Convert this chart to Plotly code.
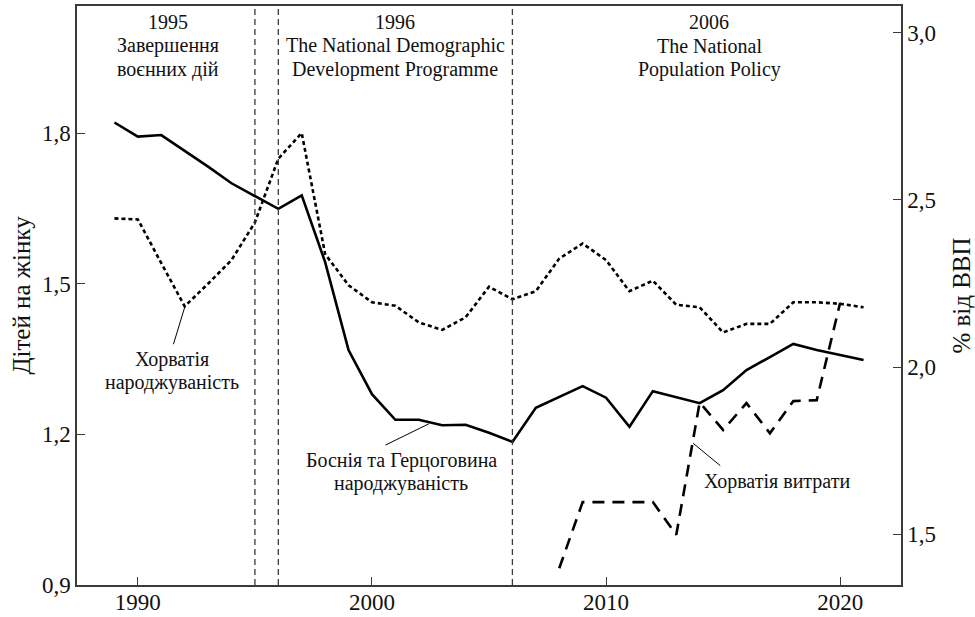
import plotly.graph_objects as go

years = list(range(1989, 2022))
bih_fertility = [1.821, 1.793, 1.796, 1.765, 1.733, 1.700, 1.675, 1.649, 1.676, 1.543,
                 1.368, 1.280, 1.229, 1.229, 1.218, 1.219, 1.203, 1.185, 1.253, 1.275,
                 1.296, 1.273, 1.215, 1.286, 1.274, 1.262, 1.288, 1.328, 1.354, 1.380,
                 1.368, 1.358, 1.348]
cro_fertility = [1.630, 1.628, 1.541, 1.455, 1.500, 1.547, 1.622, 1.749, 1.800, 1.559,
                 1.497, 1.463, 1.456, 1.423, 1.408, 1.433, 1.494, 1.469, 1.485, 1.550,
                 1.580, 1.547, 1.485, 1.506, 1.458, 1.453, 1.403, 1.420, 1.420, 1.463,
                 1.463, 1.460, 1.453]
exp_years = list(range(2008, 2021))
cro_spending = [1.398, 1.596, 1.596, 1.596, 1.596, 1.498, 1.894, 1.812, 1.892, 1.802,
                1.898, 1.901, 2.192]

event_years = [1995, 1996, 2006]
event_labels = [["1995", "Завершення", "воєнних дій"],
                ["1996", "The National Demographic", "Development Programme"],
                ["2006", "The National", "Population Policy"]]
event_label_x = [1991.3, 2001.0, 2014.4]

FONT = "Liberation Serif"
AX = "#3a3a3a"
LINE_PX = 23.5          # line spacing of the callout texts, px
PX_PER_UNIT = 501.3     # left axis pixels per unit (for line spacing)

fig = go.Figure()
fig.add_trace(go.Scatter(x=years, y=cro_fertility, mode="lines",
                         line=dict(color="black", width=2.6, dash="4px,3px"),
                         showlegend=False))
fig.add_trace(go.Scatter(x=years, y=bih_fertility, mode="lines",
                         line=dict(color="black", width=2.6),
                         showlegend=False))
fig.add_trace(go.Scatter(x=exp_years, y=cro_spending, mode="lines", yaxis="y2",
                         line=dict(color="black", width=2.6, dash="12px,8px"),
                         showlegend=False))

shapes = []
for ev in event_years:
    shapes.append(dict(type="line", xref="x", yref="paper", x0=ev, x1=ev, y0=0, y1=1,
                       line=dict(color=AX, width=1.3, dash="6px,4px")))
# leader lines
shapes.append(dict(type="line", xref="x", yref="y", x0=1992.02, y0=1.456, x1=1991.52, y1=1.3795,
                   line=dict(color="black", width=1)))
shapes.append(dict(type="line", xref="x", yref="y", x0=2002.43, y0=1.221, x1=2000.58, y1=1.1787,
                   line=dict(color="black", width=1)))
shapes.append(dict(type="line", xref="x", yref="y2", x0=2013.72, y0=1.772, x1=2014.88, y1=1.705,
                   line=dict(color="black", width=1)))

annotations = []


def add_text(x, y_center_val, lines, yref="y", ppu=PX_PER_UNIT):
    n = len(lines)
    for i, t in enumerate(lines):
        off = (i - (n - 1) / 2) * LINE_PX / ppu
        annotations.append(dict(x=x, y=y_center_val - off, xref="x", yref=yref, text=t,
                                showarrow=False, xanchor="center", yanchor="middle",
                                font=dict(family=FONT, size=20, color="#111")))


for lx, lab in zip(event_label_x, event_labels):
    add_text(lx, 1.9736, lab)
add_text(1991.47, 1.326, ["Хорватія", "народжуваність"])
add_text(2001.26, 1.125, ["Боснія та Герцоговина", "народжуваність"])
add_text(2017.3, 1.657, ["Хорватія витрати"], yref="y2", ppu=334.6)

axis_common = dict(ticks="inside", ticklen=8, tickcolor=AX, tickwidth=1.3,
                   showline=True, linecolor=AX, linewidth=1.5,
                   showgrid=False, zeroline=False, automargin=False,
                   tickfont=dict(family=FONT, size=23, color="#111"))

fig.update_layout(
    width=975, height=617,
    margin=dict(l=77, r=74, t=6, b=32),
    paper_bgcolor="white", plot_bgcolor="white",
    separators=", ",
    font=dict(family=FONT, size=23, color="#111"),
    shapes=shapes, annotations=annotations,
    xaxis=dict(range=[1987.4, 2022.6], tickvals=[1990, 2000, 2010, 2020], tickformat="d",
               mirror=True, ticklabelstandoff=-4, **axis_common),
    yaxis=dict(range=[0.9, 2.053], tickvals=[0.9, 1.2, 1.5, 1.8], tickformat=".1f",
               title=dict(text="Дітей на жінку", font=dict(family=FONT, size=25, color="#111"),
                          standoff=4),
               **axis_common),
    yaxis2=dict(range=[1.348, 3.08], tickvals=[1.5, 2.0, 2.5, 3.0], tickformat=".1f",
                overlaying="y", side="right",
                title=dict(text="% від ВВП", font=dict(family=FONT, size=25, color="#111"),
                           standoff=18),
                **axis_common),
)

fig.write_html("out.html", config={"displayModeBar": False},
               post_script="document.body.style.margin='0';document.body.style.padding='0';")
